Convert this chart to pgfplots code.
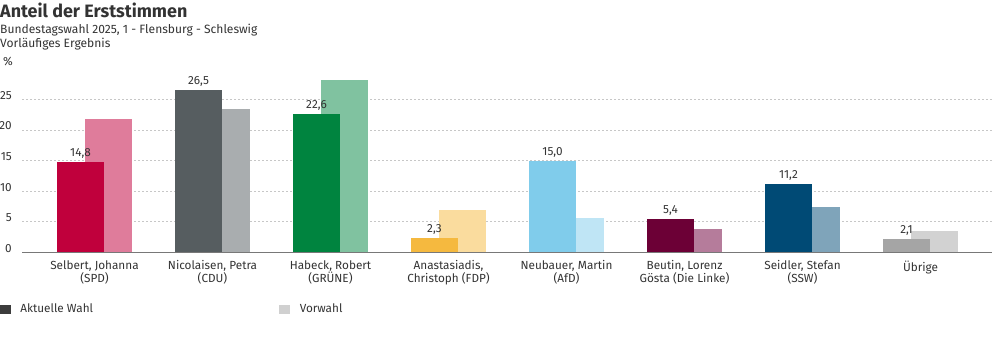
\documentclass[border=0pt]{standalone}
\usepackage{fontspec}
\setmainfont{Fira Sans}
\usepackage{pgfplots}
\pgfplotsset{compat=1.18}
\definecolor{txt}{HTML}{333333}
\definecolor{spd}{HTML}{C0003C}\definecolor{spdp}{HTML}{DF7C9B}
\definecolor{cdu}{HTML}{565D60}\definecolor{cdup}{HTML}{A9ADAF}
\definecolor{gru}{HTML}{00843F}\definecolor{grup}{HTML}{80C2A0}
\definecolor{fdp}{HTML}{F5B93F}\definecolor{fdpp}{HTML}{FADC9E}
\definecolor{afd}{HTML}{80CCEB}\definecolor{afdp}{HTML}{BFE5F5}
\definecolor{lin}{HTML}{6C0036}\definecolor{linp}{HTML}{B57C9B}
\definecolor{ssw}{HTML}{004A75}\definecolor{sswp}{HTML}{7FA4BA}
\definecolor{oth}{HTML}{A5A5A5}\definecolor{othp}{HTML}{D2D2D2}
\definecolor{legdark}{HTML}{3C3C3C}\definecolor{leglight}{HTML}{D0D0D0}
\begin{document}
\begin{tikzpicture}[x=1bp,y=1bp]
\path[use as bounding box] (0,0) rectangle (992,-352);
\node[anchor=base west, inner sep=0, text=txt, font=\fontsize{18}{21}\selectfont\bfseries] at (0,-17.5) {Anteil der Erststimmen};
\node[anchor=base west, inner sep=0, text=txt, font=\fontsize{12.1}{14}\selectfont] at (0,-33.3) {Bundestagswahl 2025, 1 - Flensburg - Schleswig};
\node[anchor=base west, inner sep=0, text=txt, font=\fontsize{12.1}{14}\selectfont] at (0,-47) {Vorläufiges Ergebnis};
\node[anchor=base west, inner sep=0, text=txt, font=\fontsize{11.8}{14}\selectfont] at (3,-65) {\%};
\begin{axis}[
  at={(22bp,-252.33bp)}, anchor=south west,
  scale only axis, width=970bp, height=183.6bp,
  xmin=-0.6144, xmax=7.6059, ymin=0, ymax=30,
  ybar, bar width=0.3983,
  axis x line*=bottom, axis y line*=left,
  y axis line style={draw=none},
  x axis line style={draw=black!53, line width=1bp},
  ymajorgrids, major grid style={draw=black!22, line width=0.8bp, dash pattern=on 2bp off 2bp},
  ytick={0,5,10,15,20,25},
  xtick={0,1,2,3,4,5,6,7},
  xticklabels={{Selbert, Johanna\\(SPD)},{Nicolaisen, Petra\\(CDU)},{Habeck, Robert\\(GRÜNE)},{Anastasiadis,\\Christoph (FDP)},{Neubauer, Martin\\(AfD)},{Beutin, Lorenz\\Gösta (Die Linke)},{Seidler, Stefan\\(SSW)},{Übrige}},
  major tick length=0pt, tick style={draw=none},
  /pgf/number format/assume math mode=true,
  yticklabel style={anchor=base east, inner sep=0pt, xshift=-10bp, text=txt, font=\fontsize{11.8}{13}\selectfont},
  xticklabel style={anchor=north, align=center, inner sep=0pt, yshift=-8bp, text=txt, font=\fontsize{11.8}{13}\selectfont},
  nodes near coords={\pgfmathprintnumber[fixed,fixed zerofill,precision=1,use comma,assume math mode=true]{\pgfplotspointmeta}},
  every node near coord/.append style={anchor=base, inner sep=0pt, yshift=5.5bp, text=txt, font=\fontsize{11.8}{13}\selectfont},
  legend columns=2,
  legend style={at={(-0.02268,-0.2667)}, anchor=north west, draw=none, fill=none, inner sep=0pt, outer sep=0pt,
    column sep=8bp, cells={anchor=base west}, font=\fontsize{11.8}{13}\selectfont, text=txt},
]
% previous election (behind)
\addplot[bar shift=0.1186, fill=spdp, draw=none, forget plot, nodes near coords=\relax] coordinates {(0,21.8)};
\addplot[bar shift=0.1186, fill=cdup, draw=none, forget plot, nodes near coords=\relax] coordinates {(1,23.4)};
\addplot[bar shift=0.1186, fill=grup, draw=none, forget plot, nodes near coords=\relax] coordinates {(2,28.2)};
\addplot[bar shift=0.1186, fill=fdpp, draw=none, forget plot, nodes near coords=\relax] coordinates {(3,6.9)};
\addplot[bar shift=0.1186, fill=afdp, draw=none, forget plot, nodes near coords=\relax] coordinates {(4,5.6)};
\addplot[bar shift=0.1186, fill=linp, draw=none, forget plot, nodes near coords=\relax] coordinates {(5,3.8)};
\addplot[bar shift=0.1186, fill=sswp, draw=none, forget plot, nodes near coords=\relax] coordinates {(6,7.4)};
\addplot[bar shift=0.1186, fill=othp, draw=none, forget plot, nodes near coords=\relax] coordinates {(7,3.5)};
% current election
\addplot[bar shift=-0.1186, fill=spd, draw=none, forget plot] coordinates {(0,14.8)};
\addplot[bar shift=-0.1186, fill=cdu, draw=none, forget plot] coordinates {(1,26.5)};
\addplot[bar shift=-0.1186, fill=gru, draw=none, forget plot] coordinates {(2,22.6)};
\addplot[bar shift=-0.1186, fill=fdp, draw=none, forget plot] coordinates {(3,2.3)};
\addplot[bar shift=-0.1186, fill=afd, draw=none, forget plot] coordinates {(4,15.0)};
\addplot[bar shift=-0.1186, fill=lin, draw=none, forget plot] coordinates {(5,5.4)};
\addplot[bar shift=-0.1186, fill=ssw, draw=none, forget plot] coordinates {(6,11.2)};
\addplot[bar shift=-0.1186, fill=oth, draw=none, forget plot] coordinates {(7,2.1)};
\addlegendimage{legend image code/.code={\fill[legdark] (0bp,-1bp) rectangle (10bp,6.6bp);}}
\addlegendentry{\makebox[249bp][l]{Aktuelle Wahl}}
\addlegendimage{legend image code/.code={\fill[leglight] (0bp,-1bp) rectangle (10bp,6.6bp);}}
\addlegendentry{Vorwahl}
\end{axis}
\end{tikzpicture}
\end{document}
